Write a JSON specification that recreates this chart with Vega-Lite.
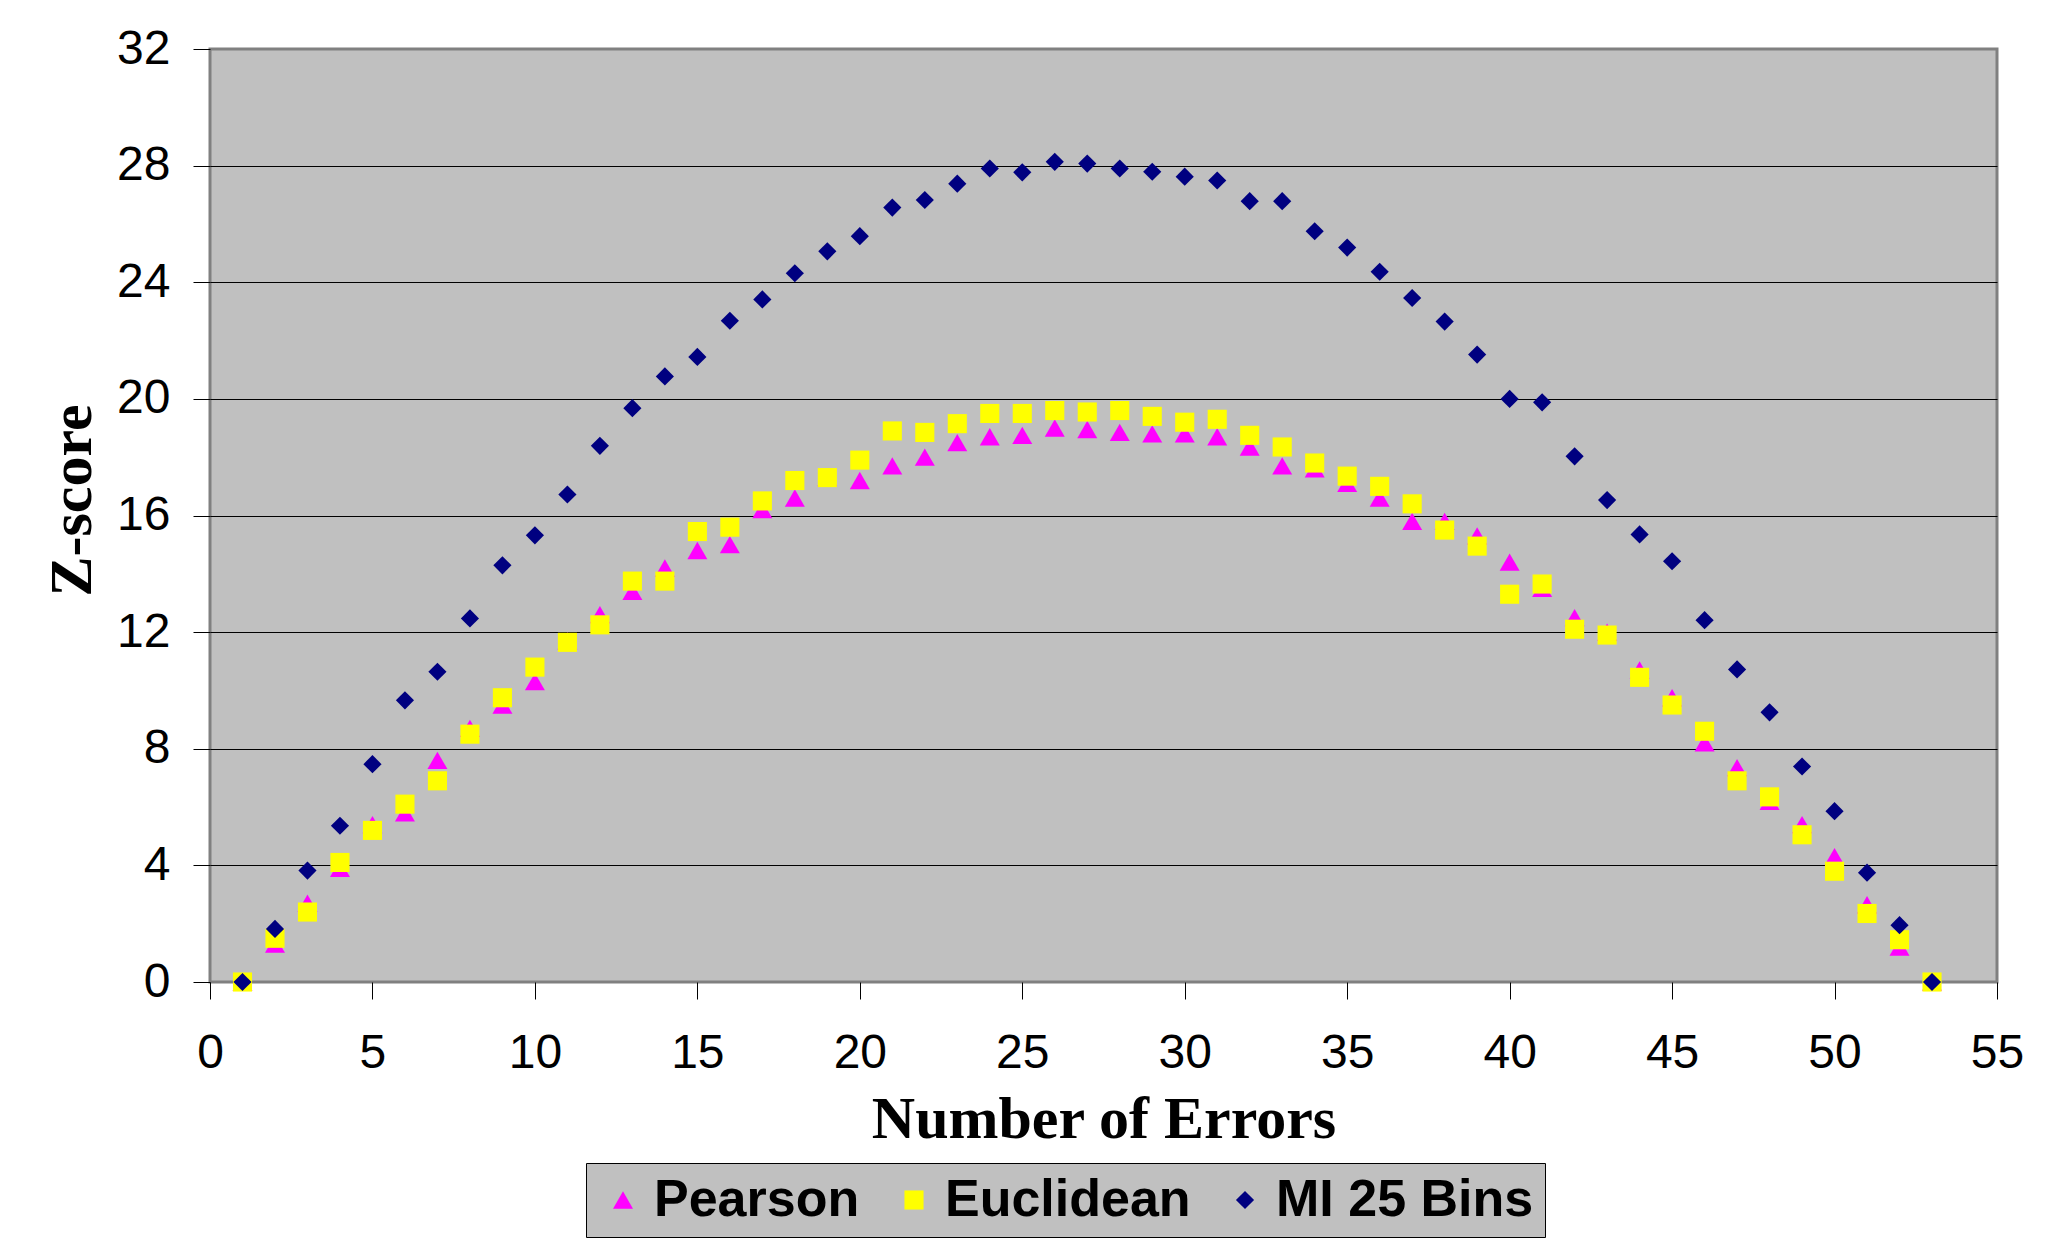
{
  "$schema": "https://vega.github.io/schema/vega-lite/v6.json",
  "autosize": {"type": "none"},
  "width": 1787,
  "height": 933,
  "padding": {"left": 210, "top": 49, "right": 64, "bottom": 273},
  "background": "#ffffff",
  "data": {
    "values": [
      {"errors": 1, "series": "Pearson", "z": 0},
      {"errors": 2, "series": "Pearson", "z": 1.3},
      {"errors": 3, "series": "Pearson", "z": 2.7},
      {"errors": 4, "series": "Pearson", "z": 3.9},
      {"errors": 5, "series": "Pearson", "z": 5.4},
      {"errors": 6, "series": "Pearson", "z": 5.8},
      {"errors": 7, "series": "Pearson", "z": 7.6},
      {"errors": 8, "series": "Pearson", "z": 8.7},
      {"errors": 9, "series": "Pearson", "z": 9.5},
      {"errors": 10, "series": "Pearson", "z": 10.3},
      {"errors": 11, "series": "Pearson", "z": 11.7},
      {"errors": 12, "series": "Pearson", "z": 12.6},
      {"errors": 13, "series": "Pearson", "z": 13.4},
      {"errors": 14, "series": "Pearson", "z": 14.2},
      {"errors": 15, "series": "Pearson", "z": 14.8},
      {"errors": 16, "series": "Pearson", "z": 15.0},
      {"errors": 17, "series": "Pearson", "z": 16.2},
      {"errors": 18, "series": "Pearson", "z": 16.6},
      {"errors": 19, "series": "Pearson", "z": 17.3},
      {"errors": 20, "series": "Pearson", "z": 17.2},
      {"errors": 21, "series": "Pearson", "z": 17.7},
      {"errors": 22, "series": "Pearson", "z": 18.0},
      {"errors": 23, "series": "Pearson", "z": 18.5},
      {"errors": 24, "series": "Pearson", "z": 18.7},
      {"errors": 25, "series": "Pearson", "z": 18.75},
      {"errors": 26, "series": "Pearson", "z": 19.0},
      {"errors": 27, "series": "Pearson", "z": 18.95},
      {"errors": 28, "series": "Pearson", "z": 18.85},
      {"errors": 29, "series": "Pearson", "z": 18.8},
      {"errors": 30, "series": "Pearson", "z": 18.8},
      {"errors": 31, "series": "Pearson", "z": 18.7},
      {"errors": 32, "series": "Pearson", "z": 18.35},
      {"errors": 33, "series": "Pearson", "z": 17.7},
      {"errors": 34, "series": "Pearson", "z": 17.6},
      {"errors": 35, "series": "Pearson", "z": 17.1},
      {"errors": 36, "series": "Pearson", "z": 16.6},
      {"errors": 37, "series": "Pearson", "z": 15.8},
      {"errors": 38, "series": "Pearson", "z": 15.8},
      {"errors": 39, "series": "Pearson", "z": 15.3},
      {"errors": 40, "series": "Pearson", "z": 14.4},
      {"errors": 41, "series": "Pearson", "z": 13.5},
      {"errors": 42, "series": "Pearson", "z": 12.5},
      {"errors": 43, "series": "Pearson", "z": 12.0},
      {"errors": 44, "series": "Pearson", "z": 10.7},
      {"errors": 45, "series": "Pearson", "z": 9.75},
      {"errors": 46, "series": "Pearson", "z": 8.2},
      {"errors": 47, "series": "Pearson", "z": 7.35},
      {"errors": 48, "series": "Pearson", "z": 6.2},
      {"errors": 49, "series": "Pearson", "z": 5.4},
      {"errors": 50, "series": "Pearson", "z": 4.3},
      {"errors": 51, "series": "Pearson", "z": 2.65},
      {"errors": 52, "series": "Pearson", "z": 1.2},
      {"errors": 53, "series": "Pearson", "z": 0},
      {"errors": 1, "series": "Euclidean", "z": 0},
      {"errors": 2, "series": "Euclidean", "z": 1.5},
      {"errors": 3, "series": "Euclidean", "z": 2.4},
      {"errors": 4, "series": "Euclidean", "z": 4.1},
      {"errors": 5, "series": "Euclidean", "z": 5.2},
      {"errors": 6, "series": "Euclidean", "z": 6.1},
      {"errors": 7, "series": "Euclidean", "z": 6.9},
      {"errors": 8, "series": "Euclidean", "z": 8.5},
      {"errors": 9, "series": "Euclidean", "z": 9.75},
      {"errors": 10, "series": "Euclidean", "z": 10.8},
      {"errors": 11, "series": "Euclidean", "z": 11.65},
      {"errors": 12, "series": "Euclidean", "z": 12.25},
      {"errors": 13, "series": "Euclidean", "z": 13.75},
      {"errors": 14, "series": "Euclidean", "z": 13.75},
      {"errors": 15, "series": "Euclidean", "z": 15.45},
      {"errors": 16, "series": "Euclidean", "z": 15.6},
      {"errors": 17, "series": "Euclidean", "z": 16.5},
      {"errors": 18, "series": "Euclidean", "z": 17.2},
      {"errors": 19, "series": "Euclidean", "z": 17.3},
      {"errors": 20, "series": "Euclidean", "z": 17.9},
      {"errors": 21, "series": "Euclidean", "z": 18.9},
      {"errors": 22, "series": "Euclidean", "z": 18.85},
      {"errors": 23, "series": "Euclidean", "z": 19.15},
      {"errors": 24, "series": "Euclidean", "z": 19.5},
      {"errors": 25, "series": "Euclidean", "z": 19.5},
      {"errors": 26, "series": "Euclidean", "z": 19.6},
      {"errors": 27, "series": "Euclidean", "z": 19.55},
      {"errors": 28, "series": "Euclidean", "z": 19.6},
      {"errors": 29, "series": "Euclidean", "z": 19.4},
      {"errors": 30, "series": "Euclidean", "z": 19.2},
      {"errors": 31, "series": "Euclidean", "z": 19.3},
      {"errors": 32, "series": "Euclidean", "z": 18.75},
      {"errors": 33, "series": "Euclidean", "z": 18.35},
      {"errors": 34, "series": "Euclidean", "z": 17.8},
      {"errors": 35, "series": "Euclidean", "z": 17.35},
      {"errors": 36, "series": "Euclidean", "z": 17.0},
      {"errors": 37, "series": "Euclidean", "z": 16.4},
      {"errors": 38, "series": "Euclidean", "z": 15.5},
      {"errors": 39, "series": "Euclidean", "z": 14.95},
      {"errors": 40, "series": "Euclidean", "z": 13.3},
      {"errors": 41, "series": "Euclidean", "z": 13.65},
      {"errors": 42, "series": "Euclidean", "z": 12.1},
      {"errors": 43, "series": "Euclidean", "z": 11.9},
      {"errors": 44, "series": "Euclidean", "z": 10.45},
      {"errors": 45, "series": "Euclidean", "z": 9.5},
      {"errors": 46, "series": "Euclidean", "z": 8.6},
      {"errors": 47, "series": "Euclidean", "z": 6.9},
      {"errors": 48, "series": "Euclidean", "z": 6.35},
      {"errors": 49, "series": "Euclidean", "z": 5.05},
      {"errors": 50, "series": "Euclidean", "z": 3.8},
      {"errors": 51, "series": "Euclidean", "z": 2.35},
      {"errors": 52, "series": "Euclidean", "z": 1.45},
      {"errors": 53, "series": "Euclidean", "z": 0},
      {"errors": 1, "series": "MI 25 Bins", "z": 0},
      {"errors": 2, "series": "MI 25 Bins", "z": 1.82},
      {"errors": 3, "series": "MI 25 Bins", "z": 3.82},
      {"errors": 4, "series": "MI 25 Bins", "z": 5.36},
      {"errors": 5, "series": "MI 25 Bins", "z": 7.47},
      {"errors": 6, "series": "MI 25 Bins", "z": 9.66},
      {"errors": 7, "series": "MI 25 Bins", "z": 10.64},
      {"errors": 8, "series": "MI 25 Bins", "z": 12.47},
      {"errors": 9, "series": "MI 25 Bins", "z": 14.29},
      {"errors": 10, "series": "MI 25 Bins", "z": 15.32},
      {"errors": 11, "series": "MI 25 Bins", "z": 16.72},
      {"errors": 12, "series": "MI 25 Bins", "z": 18.39},
      {"errors": 13, "series": "MI 25 Bins", "z": 19.68},
      {"errors": 14, "series": "MI 25 Bins", "z": 20.77},
      {"errors": 15, "series": "MI 25 Bins", "z": 21.44},
      {"errors": 16, "series": "MI 25 Bins", "z": 22.68},
      {"errors": 17, "series": "MI 25 Bins", "z": 23.41},
      {"errors": 18, "series": "MI 25 Bins", "z": 24.31},
      {"errors": 19, "series": "MI 25 Bins", "z": 25.06},
      {"errors": 20, "series": "MI 25 Bins", "z": 25.58},
      {"errors": 21, "series": "MI 25 Bins", "z": 26.56},
      {"errors": 22, "series": "MI 25 Bins", "z": 26.82},
      {"errors": 23, "series": "MI 25 Bins", "z": 27.38},
      {"errors": 24, "series": "MI 25 Bins", "z": 27.9},
      {"errors": 25, "series": "MI 25 Bins", "z": 27.77},
      {"errors": 26, "series": "MI 25 Bins", "z": 28.13},
      {"errors": 27, "series": "MI 25 Bins", "z": 28.07},
      {"errors": 28, "series": "MI 25 Bins", "z": 27.9},
      {"errors": 29, "series": "MI 25 Bins", "z": 27.79},
      {"errors": 30, "series": "MI 25 Bins", "z": 27.62},
      {"errors": 31, "series": "MI 25 Bins", "z": 27.49},
      {"errors": 32, "series": "MI 25 Bins", "z": 26.78},
      {"errors": 33, "series": "MI 25 Bins", "z": 26.78},
      {"errors": 34, "series": "MI 25 Bins", "z": 25.75},
      {"errors": 35, "series": "MI 25 Bins", "z": 25.19},
      {"errors": 36, "series": "MI 25 Bins", "z": 24.36},
      {"errors": 37, "series": "MI 25 Bins", "z": 23.46},
      {"errors": 38, "series": "MI 25 Bins", "z": 22.65},
      {"errors": 39, "series": "MI 25 Bins", "z": 21.52},
      {"errors": 40, "series": "MI 25 Bins", "z": 20.0},
      {"errors": 41, "series": "MI 25 Bins", "z": 19.88},
      {"errors": 42, "series": "MI 25 Bins", "z": 18.03},
      {"errors": 43, "series": "MI 25 Bins", "z": 16.53},
      {"errors": 44, "series": "MI 25 Bins", "z": 15.35},
      {"errors": 45, "series": "MI 25 Bins", "z": 14.43},
      {"errors": 46, "series": "MI 25 Bins", "z": 12.41},
      {"errors": 47, "series": "MI 25 Bins", "z": 10.72},
      {"errors": 48, "series": "MI 25 Bins", "z": 9.25},
      {"errors": 49, "series": "MI 25 Bins", "z": 7.39},
      {"errors": 50, "series": "MI 25 Bins", "z": 5.86},
      {"errors": 51, "series": "MI 25 Bins", "z": 3.75},
      {"errors": 52, "series": "MI 25 Bins", "z": 1.95},
      {"errors": 53, "series": "MI 25 Bins", "z": 0}
    ]
  },
  "mark": {"type": "point", "filled": true, "opacity": 1, "strokeWidth": 0},
  "encoding": {
    "x": {
      "field": "errors",
      "type": "quantitative",
      "scale": {"domain": [0, 55], "nice": false, "zero": false},
      "axis": {
        "values": [0, 5, 10, 15, 20, 25, 30, 35, 40, 45, 50, 55],
        "grid": false,
        "domain": false,
        "tickSize": 17,
        "tickColor": "#000000",
        "labelPadding": 30,
        "labelFlush": false,
        "labelOverlap": false,
        "title": "Number of Errors",
        "titleBaseline": "alphabetic",
        "titleY": 155
      }
    },
    "y": {
      "field": "z",
      "type": "quantitative",
      "scale": {"domain": [0, 32], "nice": false},
      "axis": {
        "values": [0, 4, 8, 12, 16, 20, 24, 28, 32],
        "grid": true,
        "gridColor": {"condition": {"test": "datum.value == 0 || datum.value == 32", "value": "#808080"}, "value": "#000000"},
        "gridWidth": 1,
        "domain": false,
        "tickSize": 17,
        "tickColor": "#000000",
        "labelPadding": 23,
        "labelFlush": false,
        "labelOverlap": false,
        "title": "Z-score",
        "titleAngle": -90,
        "titleBaseline": "alphabetic",
        "titleAlign": "center",
        "titleX": -120,
        "titleY": 451
      }
    },
    "color": {
      "field": "series",
      "type": "nominal",
      "scale": {"domain": ["Pearson", "Euclidean", "MI 25 Bins"], "range": ["#ff00ff", "#ffff00", "#000080"]},
      "legend": {"title": null}
    },
    "shape": {
      "field": "series",
      "type": "nominal",
      "scale": {"domain": ["Pearson", "Euclidean", "MI 25 Bins"], "range": ["triangle-up", "square", "diamond"]},
      "legend": {"title": null}
    },
    "size": {
      "field": "series",
      "type": "nominal",
      "scale": {"domain": ["Pearson", "Euclidean", "MI 25 Bins"], "range": [400, 330, 460]},
      "legend": null
    }
  },
  "config": {
    "view": {"fill": "#c0c0c0", "stroke": "#808080", "strokeWidth": 3},
    "axis": {
      "labelFont": "Liberation Sans",
      "labelFontSize": 48,
      "labelColor": "#000000",
      "titleFont": "Liberation Serif",
      "titleFontSize": 60,
      "titleFontWeight": "bold",
      "titleColor": "#000000"
    },
    "legend": {
      "orient": "none",
      "legendX": 376,
      "legendY": 1114,
      "direction": "horizontal",
      "columns": 3,
      "fillColor": "#c0c0c0",
      "strokeColor": "#000000",
      "padding": 11,
      "columnPadding": 28,
      "labelOffset": 5,
      "labelLimit": 0,
      "labelFont": "Liberation Sans",
      "labelFontSize": 52,
      "labelFontWeight": "bold",
      "labelColor": "#000000",
      "symbolSize": 200,
      "symbolStrokeWidth": 0,
      "symbolOpacity": 1
    }
  }
}
